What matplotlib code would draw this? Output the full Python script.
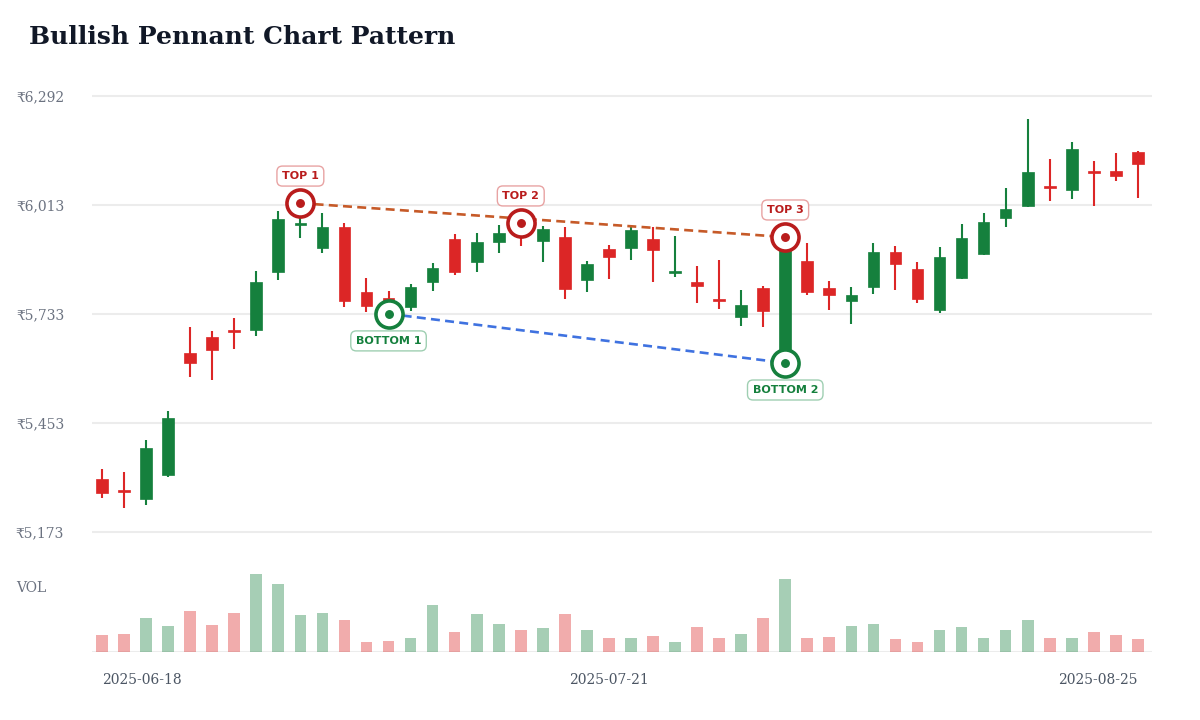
import matplotlib
matplotlib.use("Agg")
import matplotlib.pyplot as plt
import matplotlib.transforms as mtransforms

# ---------------- data ----------------
opens = [5309, 5281, 5258, 5319, 5632, 5673, 5691, 5691, 5840, 5961,
         5902, 5956, 5789, 5774, 5750, 5815, 5925, 5866, 5917, 5958,
         5920, 5930, 5820, 5899, 5902, 5925, 5838, 5815, 5771, 5725,
         5799, 5635, 5869, 5799, 5766, 5802, 5892, 5848, 5743, 5825,
         5887, 5979, 6010, 6061, 6051, 6100, 6100, 6148]
highs = [5335, 5327, 5409, 5484, 5699, 5689, 5722, 5843, 5997, 6017,
         5992, 5966, 5825, 5792, 5810, 5863, 5938, 5940, 5961, 5966,
         5958, 5956, 5869, 5910, 5956, 5956, 5933, 5856, 5871, 5794,
         5804, 5930, 5915, 5817, 5802, 5915, 5907, 5866, 5904, 5964,
         5992, 6056, 6233, 6130, 6174, 6125, 6146, 6150]
lows = [5260, 5235, 5242, 5314, 5571, 5563, 5643, 5676, 5820, 5928,
        5889, 5750, 5738, 5733, 5740, 5792, 5833, 5840, 5889, 5907,
        5866, 5771, 5789, 5822, 5871, 5815, 5827, 5761, 5745, 5702,
        5699, 5607, 5781, 5743, 5707, 5784, 5794, 5761, 5735, 5822,
        5885, 5956, 6008, 6023, 6028, 6010, 6074, 6030]
closes = [5273, 5275, 5389, 5466, 5607, 5640, 5686, 5815, 5976, 5966,
          5956, 5766, 5753, 5756, 5802, 5851, 5840, 5917, 5940, 5933,
          5951, 5797, 5861, 5879, 5948, 5897, 5843, 5804, 5766, 5756,
          5740, 5910, 5789, 5781, 5781, 5892, 5861, 5771, 5879, 5928,
          5969, 6002, 6097, 6056, 6156, 6094, 6087, 6117]
volumes = [430, 458, 888, 673, 1060, 708, 1008, 2005, 1748, 948,
           1015, 835, 250, 275, 370, 1205, 518, 973, 715, 568,
           610, 983, 578, 353, 370, 423, 250, 638, 363, 458,
           888, 1878, 370, 395, 680, 715, 345, 250, 578, 638,
           370, 560, 835, 363, 363, 508, 430, 345]

date_tick_idx = [0, 23, 47]
date_tick_labels = ["2025-06-18", "2025-07-21", "2025-08-25"]
price_ticks = [5173, 5453, 5733, 6013, 6292]
price_tick_labels = ["₹5,173", "₹5,453", "₹5,733", "₹6,013", "₹6,292"]

top_idx = [9, 19, 31]
top_names = ["TOP 1", "TOP 2", "TOP 3"]
bottom_idx = [13, 31]
bottom_names = ["BOTTOM 1", "BOTTOM 2"]

# ---------------- style ----------------
GREEN = "#15803d"
RED = "#dc2626"
RING_RED = "#b91c1c"
RING_GREEN = "#15803d"
GRID = "#ececec"
SERIF = ["DejaVu Serif", "DejaVu Sans"]

W, H = 1200, 720
fig = plt.figure(figsize=(12, 7.2), dpi=100)
fig.patch.set_facecolor("white")

ax_left = 92 / W
ax_width = 1060 / W
ax = fig.add_axes([ax_left, 1 - 545 / H, ax_width, 485 / H])
axv = fig.add_axes([ax_left, 1 - 652 / H, ax_width, 92 / H], sharex=ax)

n = len(opens)
xs = list(range(n))
ax.set_xlim(-0.454, 47.64)
ax.set_ylim(5139.7, 6384.4)

for a in (ax, axv):
    for s in a.spines.values():
        s.set_visible(False)
    a.set_facecolor("none")

# grid
ax.set_yticks(price_ticks)
ax.set_yticklabels(price_tick_labels, family=SERIF, fontsize=10, color="#6b7280")
ax.tick_params(axis="y", length=0, pad=20)
ax.tick_params(axis="x", length=0, labelbottom=False)
ax.grid(axis="y", color=GRID, linewidth=1.5)
ax.set_axisbelow(True)

# candles
body_w = 0.53
for i in xs:
    o, h, l, c = opens[i], highs[i], lows[i], closes[i]
    col = GREEN if c >= o else RED
    ax.vlines(i, l, h, color=col, linewidth=1.5, zorder=2)
    lo = min(o, c)
    ht = max(abs(c - o), 4)
    ax.bar(i, ht, bottom=lo, width=body_w, color=col, edgecolor=col,
           linewidth=0.5, zorder=3)

# trend lines
ax.plot([top_idx[0], top_idx[-1]], [highs[top_idx[0]], highs[top_idx[-1]]],
        color="#c65a28", linewidth=1.9, dashes=(3.4, 2.0), zorder=4,
        solid_capstyle="butt", dash_capstyle="butt")
ax.plot([bottom_idx[0], bottom_idx[-1]], [lows[bottom_idx[0]], lows[bottom_idx[-1]]],
        color="#3f72e0", linewidth=1.9, dashes=(3.4, 2.0), zorder=4,
        dash_capstyle="butt")

# markers
def mark(i, price, ring, name, above):
    ax.plot([i], [price], marker="o", markersize=19.5, markerfacecolor="white",
            markeredgecolor=ring, markeredgewidth=2.6, zorder=6, clip_on=False)
    ax.plot([i], [price], marker="o", markersize=5.4, markerfacecolor=ring,
            markeredgecolor=ring, zorder=7, clip_on=False)
    off = 19.5 if above else -19.5
    edge = "#e8a3a3" if above else "#9fcfb2"
    ax.annotate(name, (i, price), xytext=(0, off), textcoords="offset points",
                ha="center", va="center", fontsize=8, fontweight="bold",
                color=ring, family="DejaVu Sans", zorder=8,
                bbox=dict(boxstyle="round,pad=0.45,rounding_size=0.5",
                          facecolor="white", edgecolor=edge, linewidth=1.0))

for i, nm in zip(top_idx, top_names):
    mark(i, highs[i], RING_RED, nm, True)
for i, nm in zip(bottom_idx, bottom_names):
    mark(i, lows[i], RING_GREEN, nm, False)

# volume
vcols = [GREEN if closes[i] >= opens[i] else RED for i in xs]
axv.bar(xs, volumes, width=body_w, color=vcols, alpha=0.38, linewidth=0, zorder=2)
axv.set_ylim(0, 2380)
axv.set_yticks([0])
axv.grid(axis="y", color=GRID, linewidth=1.5)
axv.set_axisbelow(True)
axv.tick_params(axis="both", length=0, labelleft=False, labelbottom=False)

fig.text(16 / W, 1 - 588 / H, "VOL", family=SERIF, fontsize=10, color="#6b7280",
         ha="left", va="center")

# date labels
trans = mtransforms.blended_transform_factory(ax.transData, fig.transFigure)
aligns = ["left", "center", "right"]
for idx, lab, al in zip(date_tick_idx, date_tick_labels, aligns):
    fig.text(idx, 1 - 680 / H, lab, transform=trans, ha=al, va="center",
             family=SERIF, fontsize=10, color="#4b5563")

# title
fig.text(29 / W, 1 - 44 / H, "Bullish Pennant Chart Pattern", family=SERIF,
         fontsize=18, fontweight="bold", color="#111827", ha="left", va="baseline")

fig.savefig("out.png", dpi=100, facecolor="white")
